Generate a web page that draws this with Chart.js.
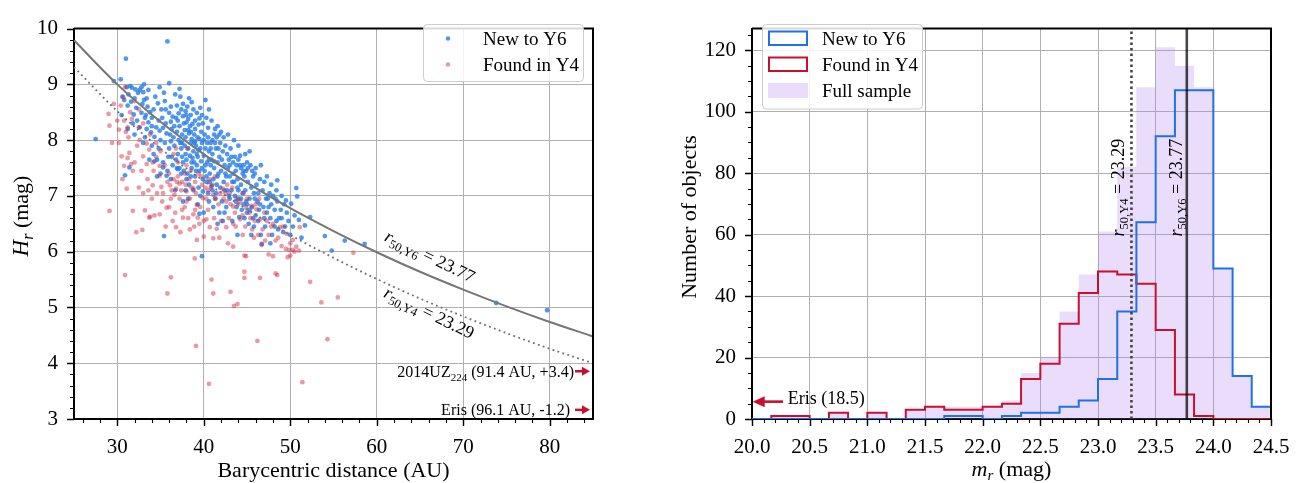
<!DOCTYPE html>
<html><head><meta charset="utf-8">
<script src="https://cdn.jsdelivr.net/npm/chart.js@4.4.1/dist/chart.umd.min.js"></script>
<style>
html,body{margin:0;padding:0;background:#fff;}
#wrap{position:relative;width:1310px;height:483px;overflow:hidden;background:#fff;}
canvas{position:absolute;top:0;}
</style></head><body>
<div id="wrap">
<canvas id="c1" width="655" height="483" style="left:0"></canvas>
<canvas id="c2" width="655" height="483" style="left:655px"></canvas>
</div>
<script>
// ---------------- LEFT PANEL DATA ----------------
const newY6Points = [
[27.5,8.02],[29.6,9.06],[30.4,9.09],[31.0,9.46],[35.8,9.77],[30.6,8.78],[30.8,8.72],[31.1,8.95],[31.2,8.62],[30.9,7.37],[31.4,7.51],[31.3,8.82],[31.5,8.97],
[31.7,8.94],[32.1,8.91],[32.4,8.85],[32.6,8.90],[33.0,8.86],[33.1,8.72],[32.2,8.58],[32.8,8.49],[33.2,8.40],[33.6,8.32],[32.6,8.23],[33.4,8.20],[33.9,8.14],[31.9,8.46],[32.3,8.35],[31.6,8.69],[33.5,8.60],[33.8,8.50],[32.0,8.10],[33.2,8.05],[33.0,7.95],[34.0,7.90],
[34.5,8.23],[34.9,8.17],[34.3,8.06],[34.7,8.66],[35.4,8.85],[36.0,8.49],[35.2,8.40],[35.6,8.30],[36.3,8.20],[35.0,8.00],[35.5,7.95],[36.0,7.85],[36.5,8.05],[36.8,8.40],[36.7,8.82],[35.9,7.70],[35.3,7.60],[36.4,7.55],[34.6,7.65],[35.8,7.45],[35.4,6.28],[36.9,8.15],[36.2,7.98],[35.1,8.55],[34.2,7.75],[35.0,7.40],
[37.6,8.65],[37.6,8.43],[38.0,8.32],[38.7,8.29],[39.2,8.49],[39.5,8.39],[40.2,8.72],[37.2,8.25],[37.5,8.10],[37.9,8.05],[38.3,8.12],[38.6,8.02],[38.9,8.10],[39.3,8.05],[39.7,8.15],[37.3,7.95],[37.8,7.90],[38.2,7.85],[38.5,7.95],[38.8,7.80],[39.1,7.90],[39.4,7.82],[39.8,7.95],[37.0,7.75],[37.5,7.70],[38.0,7.65],[38.4,7.72],[38.9,7.60],[39.3,7.70],[39.7,7.62],[37.2,7.50],[37.7,7.45],[38.1,7.40],[38.6,7.50],[39.0,7.35],[39.5,7.45],[39.9,7.30],[38.3,7.20],[38.8,7.10],[39.6,7.00],[39.3,6.85],[39.5,6.68],[39.8,5.92],[37.4,8.55],[38.1,8.60],[38.5,8.45],[37.0,8.35],[39.0,8.20],[39.9,8.30],[38.4,8.25],
[40.3,8.40],[40.9,8.35],[40.1,8.10],[40.5,8.05],[40.8,7.95],[41.2,8.10],[41.5,8.05],[41.8,8.10],[40.2,7.85],[40.6,7.80],[41.0,7.75],[41.4,7.85],[41.8,7.70],[42.2,7.80],[40.4,7.60],[40.8,7.55],[41.2,7.50],[41.6,7.60],[42.0,7.45],[42.4,7.55],[42.8,7.50],[40.3,7.35],[40.7,7.25],[41.1,7.30],[41.5,7.20],[41.9,7.15],[42.3,7.25],[42.7,7.10],[40.5,7.05],[41.3,6.95],[42.1,6.90],[42.6,6.80],[41.8,6.70],[42.2,6.55],[43.0,7.35],[43.2,7.70],[42.5,7.90],[41.0,7.10],
[43.4,7.60],[43.7,7.45],[44.0,7.65],[44.3,7.50],[44.6,7.55],[45.0,7.60],[45.4,7.55],[43.5,7.25],[43.9,7.30],[44.3,7.20],[44.7,7.35],[45.1,7.25],[45.5,7.15],[43.6,7.00],[44.0,6.95],[44.5,7.05],[44.9,6.90],[45.3,6.95],[45.8,7.05],[46.2,6.90],[43.8,6.80],[44.4,6.75],[45.0,6.70],[45.6,6.80],[46.0,6.65],[46.5,6.85],[45.2,6.50],[46.7,6.14],[44.1,6.62],[46.8,7.10],[47.2,6.95],[47.5,6.80],[47.0,6.60],[43.2,7.10],[44.2,7.72],[45.7,7.35],
[47.8,6.85],[48.2,6.75],[48.5,6.90],[48.5,7.28],[48.4,6.55],[49.0,6.60],[49.3,6.85],[49.6,6.70],[50.1,6.86],[49.5,6.92],[50.7,7.14],[50.8,6.99],[51.0,6.57],[51.7,6.47],[52.3,6.62],[51.3,6.25],[48.6,6.40],[49.2,6.35],[50.3,6.45],[47.6,7.05],
[54.0,6.28],[54.8,6.02],[56.3,6.20],[58.6,6.14],[73.8,5.08],[79.7,4.95],
[34.8,8.35],[35.3,8.22],[35.7,8.12],[36.2,8.33],[36.6,8.25],[37.1,8.48],[37.7,8.30],[38.2,8.38],[38.8,8.55],[39.4,8.28],[39.8,8.45],[40.5,8.22],[41.0,8.00],[41.3,8.20],[41.9,7.95],[42.3,8.05],[42.7,7.75],[43.1,7.85],[43.6,7.70],[44.2,7.55],[44.6,7.45],[45.1,7.50],[45.6,7.45],[46.1,7.20],[46.5,7.30],[47.0,7.25],[47.4,6.95],[48.0,7.00],[48.7,6.60],[49.4,6.45],
[36.3,7.70],[36.9,7.50],[37.4,7.40],[38.0,7.30],[38.6,7.60],[39.1,7.45],[39.8,7.50],[40.3,7.25],[40.9,7.18],[41.6,7.35],[42.4,7.10],[43.0,6.95],[43.7,6.90],[44.3,6.95],[45.0,6.85],[45.7,6.60],[46.3,6.55],[47.1,6.45],[47.9,6.30],[48.3,6.95],
[35.5,8.70],[36.2,8.60],[37.3,8.78],[38.3,8.75],[34.2,8.55],[33.6,8.90],[31.8,8.30],[30.5,8.45],[31.2,8.20],[34.8,7.85],[33.7,7.65],[34.3,7.62],[35.3,7.51],[35.7,7.36],[37.6,6.90],[37.0,7.48],
[36.6,7.90],[37.1,8.00],[37.4,7.85],[37.9,7.75],[38.2,8.18],[38.7,7.68],[39.0,7.98],[39.2,7.55],[39.6,7.85],[40.0,7.72],[40.4,7.95],[40.9,7.65],[41.3,7.95],[41.7,7.40],[42.1,7.65],[42.6,7.35],[43.0,7.55],[43.4,7.40],[43.9,7.15],[44.5,7.40],[36.1,8.10],[36.8,7.65],[37.6,7.60],[38.5,7.35],[39.4,7.15],[40.1,7.45],[40.7,7.40],[41.4,7.05],[42.9,7.00],[44.8,7.10],[45.9,6.95],[46.4,6.75],[47.3,6.70],[40.0,8.00],[39.0,8.35],[38.0,8.45],[34.0,8.40],[33.4,8.75],[32.0,8.75],
[36.4,8.42],[36.9,8.62],[37.9,8.52],[38.6,8.68],[39.6,8.58],[40.6,8.55],[41.6,8.25],[42.0,8.15],[42.8,8.10],[43.5,8.00],[44.0,7.90],[44.8,7.75],[45.3,7.80],[46.0,7.50],[46.6,7.55],[47.3,7.35],[47.8,7.20],[48.4,7.10],[49.0,7.00],[49.8,6.55],
[34.4,8.78],[33.1,9.00],[32.8,8.95],[34.9,8.95],[36.0,9.02],[37.2,8.92],[35.6,8.55],[34.0,8.25],[33.3,8.45],[32.9,8.65],
[37.8,8.18],[38.9,7.95],[39.5,8.02],[40.6,7.65],[41.2,7.62],[42.5,7.40],[43.3,7.25],[44.0,7.10],[44.6,6.85],[45.3,6.75],[46.3,7.05],[46.9,6.80],[47.7,6.60],[48.9,6.75],[50.5,6.65],
[37.5,7.95],[38.5,8.15],[39.2,7.75],[40.2,7.55],[40.8,7.85],[41.7,7.85],[42.9,7.65],[43.8,7.55],[44.9,7.45],[45.9,7.40],[39.9,7.08],[40.6,6.90],[41.1,6.80],[42.4,6.70],[43.3,6.55],[44.7,6.60],[45.8,6.45],[46.6,6.30],[47.7,6.15],[48.2,6.45],
[34.6,7.35],[36.2,7.30],[36.7,7.10],[37.9,7.10],[38.2,6.95],[40.0,6.70],[41.6,6.50],[43.9,6.30],[45.5,6.30],[50.0,6.30]
];
const foundY4Points = [
[29.0,8.47],[29.1,8.26],[29.4,7.95],[30.4,8.62],[30.7,8.77],[30.8,8.35],[31.2,8.23],[30.2,8.19],[31.7,8.38],[32.5,8.23],
[30.5,7.71],[31.2,7.68],[31.4,7.77],[30.8,7.54],[31.6,7.57],[32.6,8.00],[33.4,7.94],[33.7,7.83],[33.0,7.71],[33.4,7.57],[34.1,7.60],[34.9,7.54],[34.9,7.36],[34.1,7.19],[35.1,7.16],[36.1,7.19],[36.8,7.13],[37.2,7.22],[36.6,7.02],[38.0,7.08],[38.8,7.13],[38.0,6.90],[39.2,6.84],[39.9,6.96],[40.5,7.10],[41.1,7.02],[42.2,7.13],[43.0,7.05],[42.6,6.90],[43.4,6.81],[44.2,6.90],[44.9,6.79],[45.5,6.82],[46.1,6.76],[46.5,6.58],[47.3,6.55],[48.0,6.50],[48.8,6.44],[49.6,6.32],[50.3,6.21],[51.1,6.44],[50.7,6.09],[49.9,6.03],[44.2,6.58],[43.4,6.50],[42.6,6.44],[41.5,6.41],[40.7,6.44],[40.3,6.58],[39.3,6.61],[38.8,6.67],[37.6,6.61],[36.8,6.44],[36.4,6.55],[35.7,6.79],[34.9,6.67],[33.7,6.61],[33.2,6.74],[31.8,6.73],[29.1,6.73],[39.2,6.21],[40.0,6.27],[41.1,6.24],[43.4,6.09],[44.9,5.92],[46.7,6.12],[48.0,5.92],
[30.9,5.58],[35.8,5.25],[36.2,5.54],[39.1,4.31],[40.6,3.63],[51.4,3.66],[46.2,4.40],[54.3,4.43],[43.1,5.28],[43.5,5.03],[43.9,5.06],[41.1,5.25],[40.9,5.50],[44.7,5.53],[44.7,5.64],[46.5,5.53],[48.3,5.61],[48.5,5.58],[52.3,5.46],[53.6,5.09],[55.5,5.18],[57.3,5.98],[49.7,5.90],[50.0,5.93],[50.3,6.03],[38.96,5.88],[44.7,5.93],[33.8,6.63],[32.9,6.39],[31.1,7.13],
[36.0,7.40],[36.5,7.30],[37.0,7.35],[37.5,7.25],[37.8,7.40],[38.3,7.30],[38.6,7.15],[39.0,7.25],[39.4,7.40],[39.8,7.20],[40.2,7.15],[40.6,7.30],[41.0,7.20],[41.4,6.95],[41.9,7.05],[42.3,6.95],[42.7,7.20],[43.1,6.85],[43.6,6.70],[44.0,6.85],[44.5,6.65],[45.0,6.95],[45.4,6.60],[46.0,6.85],[46.8,6.40],[47.5,6.30],[48.3,6.20],[49.0,6.10],[49.5,6.05],[50.5,6.00],[51.0,6.02],[37.2,6.95],[37.8,6.80],[38.4,6.95],[39.0,6.75],[39.6,6.80],[40.0,6.55],[35.5,7.55],[35.0,7.80],[34.5,7.95],[33.8,8.10],[33.0,8.30],[32.5,8.55],[31.5,8.50],[31.0,8.15],[30.2,7.95],[36.5,7.75],[37.0,7.60],[38.0,7.55],[34.2,7.45],[33.5,7.30],[32.5,7.15],[31.8,7.45],[30.6,7.30],[36.2,6.95],[35.6,6.45],[34.3,6.65],[32.2,6.35],[38.4,6.40],[37.3,6.35],[41.8,6.25],[42.8,6.15],[45.8,6.25],[47.5,5.95],[44.5,6.30],
[35.3,7.05],[35.8,7.25],[36.3,7.10],[36.9,7.25],[37.4,7.10],[37.9,7.20],[38.5,7.45],[39.1,7.05],[39.7,7.35],[40.3,6.95],[40.8,7.15],[41.3,7.35],[41.7,6.85],[42.5,7.05],[43.3,7.15],[43.8,6.95],[44.6,7.05],[45.3,6.70],[45.9,6.55],[46.4,6.95],[47.0,6.70],[47.8,6.45],[48.6,6.25],[49.2,6.45],[50.0,6.15],
[36.0,6.80],[36.7,6.70],[37.5,6.75],[38.2,6.60],[38.9,6.45],[39.5,6.50],[40.5,6.75],[41.2,6.60],[42.0,6.55],[42.9,6.60],[43.7,6.45],[44.8,6.45],[45.6,6.40],[46.3,6.30],[47.1,6.20],
[32.0,7.60],[32.8,7.45],[33.6,7.10],[34.6,7.05],[35.2,6.90],[34.0,6.95],[33.0,7.05],[32.3,7.90],[31.3,8.05],[30.0,8.35],[29.6,8.65],[30.9,8.95],[32.0,8.70],[34.5,7.70],[36.8,7.85],[38.1,7.85]
];
const curveDist = [25,30,35,40,45,50,55,60,65,70,75,80,85];
const curveY6 = [9.79,9.00,8.33,7.75,7.24,6.78,6.37,5.99,5.64,5.32,5.02,4.74,4.48];
const curveY4 = [9.31,8.52,7.85,7.27,6.76,6.30,5.89,5.51,5.16,4.84,4.54,4.26,4.00];
const leftXTicks = [30,40,50,60,70,80];
const leftYTicks = [3,4,5,6,7,8,9,10];

// ---------------- RIGHT PANEL DATA ----------------
const binEdges = [20.0,20.167,20.333,20.5,20.667,20.833,21.0,21.167,21.333,21.5,21.667,21.833,22.0,22.167,22.333,22.5,22.667,22.833,23.0,23.167,23.333,23.5,23.667,23.833,24.0,24.167,24.333,24.5];
const countsY6   = [0,0,0,0,0,0,0,0,0,0,1,1,0,1,2,2,4,6,13,35,64,92,107,107,49,14,4];
const countsY4   = [0,1,1,0,2,0,2,0,3,4,3,3,4,5,13,18,31,41,48,47,44,29,8,1,0,0,0];
const countsFull = [0,1,1,0,2,0,2,0,3,4,4,4,4,6,15,20,35,47,61,82,108,121,115,108,49,14,4];
const rightXTicks = [20.0,20.5,21.0,21.5,22.0,22.5,23.0,23.5,24.0,24.5];
const rightYTicks = [0,20,40,60,80,100,120];
const medianY4 = 23.29;
const medianY6 = 23.77;

// ---------------- HELPERS ----------------
const FONT = '"Liberation Serif","DejaVu Serif","Times New Roman",serif';
const f = (sz, it) => (it ? 'italic ' : '') + sz + 'px ' + FONT;
const RED = '#c8102e', BLUE = '#1f72e6';

function drawRich(ctx, parts, x, y, align, rot, base) {
  ctx.save();
  ctx.translate(x, y);
  if (rot) ctx.rotate(rot);
  ctx.fillStyle = '#000';
  ctx.textBaseline = 'alphabetic';
  ctx.textAlign = 'left';
  let w = 0;
  const ws = parts.map(p => { ctx.font = p.f; const m = ctx.measureText(p.t).width; w += m; return m; });
  let cx = align === 'center' ? -w / 2 : (align === 'right' ? -w : 0);
  parts.forEach((p, i) => { ctx.font = p.f; ctx.fillText(p.t, cx, (base || 0) + (p.dy || 0)); cx += ws[i]; });
  ctx.restore();
}
function arrow(ctx, x0, y, x1, shaft, headL, headW) {
  const dir = Math.sign(x1 - x0);
  ctx.save(); ctx.strokeStyle = RED; ctx.fillStyle = RED; ctx.lineWidth = shaft;
  ctx.beginPath(); ctx.moveTo(x0, y); ctx.lineTo(x1 - dir * headL * 0.7, y); ctx.stroke();
  ctx.beginPath(); ctx.moveTo(x1, y); ctx.lineTo(x1 - dir * headL, y - headW); ctx.lineTo(x1 - dir * headL, y + headW); ctx.closePath(); ctx.fill();
  ctx.restore();
}
function frame(chart, xMajor, xMinor, yMajor, yMinor) {
  const {ctx, chartArea: a, scales: {x, y}} = chart;
  ctx.save(); ctx.strokeStyle = '#000';
  ctx.lineWidth = 1.4; ctx.beginPath();
  xMajor.forEach(v => { const p = Math.round(x.getPixelForValue(v)) + 0.5; ctx.moveTo(p, a.bottom); ctx.lineTo(p, a.bottom + 7); });
  yMajor.forEach(v => { const p = Math.round(y.getPixelForValue(v)) + 0.5; ctx.moveTo(a.left, p); ctx.lineTo(a.left - 7, p); });
  ctx.stroke();
  ctx.lineWidth = 1.1; ctx.beginPath();
  for (let k = Math.ceil(x.min / xMinor - 1e-6); k * xMinor <= x.max + 1e-6; k++) {
    const p = Math.round(x.getPixelForValue(k * xMinor)) + 0.5; ctx.moveTo(p, a.bottom); ctx.lineTo(p, a.bottom + 4);
  }
  for (let k = Math.ceil(y.min / yMinor - 1e-6); k * yMinor <= y.max + 1e-6; k++) {
    const p = Math.round(y.getPixelForValue(k * yMinor)) + 0.5; ctx.moveTo(a.left, p); ctx.lineTo(a.left - 4, p);
  }
  ctx.stroke();
  ctx.lineWidth = 2; ctx.beginPath();
  ctx.moveTo(a.left, a.top); ctx.lineTo(a.right, a.top); ctx.lineTo(a.right, a.bottom); ctx.stroke();
  ctx.restore();
}
function legendBox(ctx, x0, y0, x1, y1) {
  ctx.save();
  ctx.fillStyle = 'rgba(255,255,255,0.85)'; ctx.strokeStyle = '#cccccc'; ctx.lineWidth = 1;
  ctx.beginPath(); ctx.roundRect(x0 + 0.5, y0 + 0.5, x1 - x0, y1 - y0, 4); ctx.fill(); ctx.stroke();
  ctx.restore();
}
function axisCommon(min, max, ticksArr, fmt, pad, fitProp, fitVal) {
  return {
    type: 'linear', min, max,
    afterBuildTicks: s => { s.ticks = ticksArr.map(v => ({value: v})); },
    afterFit: s => { s[fitProp] = fitVal; },
    ticks: {callback: fmt, font: {family: FONT, size: 21}, color: '#000', padding: pad, autoSkip: false, maxRotation: 0},
    grid: {color: '#b0b0b0', lineWidth: 1, drawTicks: false},
    border: {color: '#000', width: 2}
  };
}

// ---------------- LEFT CHART ----------------
const leftDecor = {
  id: 'leftDecor',
  afterDraw(chart) {
    const {ctx, scales: {x, y}} = chart;
    frame(chart, leftXTicks, 2, leftYTicks, 0.2);
    drawRich(ctx, [{t: 'r', f: f(18, true)}, {t: '50,Y6', f: f(12.5), dy: 4}, {t: ' = 23.77', f: f(18)}],
      x.getPixelForValue(66.16), y.getPixelForValue(5.92), 'center', 26 * Math.PI / 180, 6);
    drawRich(ctx, [{t: 'r', f: f(18, true)}, {t: '50,Y4', f: f(12.5), dy: 4}, {t: ' = 23.29', f: f(18)}],
      x.getPixelForValue(66.08), y.getPixelForValue(4.91), 'center', 26 * Math.PI / 180, 6);
    drawRich(ctx, [{t: '2014UZ', f: f(16)}, {t: '224', f: f(11), dy: 4}, {t: ' (91.4 AU, +3.4)', f: f(16)}],
      x.getPixelForValue(82.8), y.getPixelForValue(3.856), 'right', 0, 5.5);
    arrow(ctx, x.getPixelForValue(82.92), y.getPixelForValue(3.856), x.getPixelForValue(84.65), 2.5, 8, 4.5);
    drawRich(ctx, [{t: 'Eris (96.1 AU, -1.2)', f: f(16)}],
      x.getPixelForValue(82.34), y.getPixelForValue(3.164), 'right', 0, 5.5);
    arrow(ctx, x.getPixelForValue(82.92), y.getPixelForValue(3.164), x.getPixelForValue(84.65), 2.5, 8, 4.5);
    legendBox(ctx, 423, 24, 583, 81);
    ctx.save();
    ctx.fillStyle = 'rgba(40,125,230,0.8)'; ctx.beginPath(); ctx.arc(448, 38.5, 2.3, 0, 2 * Math.PI); ctx.fill();
    ctx.fillStyle = 'rgba(205,30,60,0.45)'; ctx.beginPath(); ctx.arc(448, 64.5, 2.3, 0, 2 * Math.PI); ctx.fill();
    ctx.restore();
    drawRich(ctx, [{t: 'New to Y6', f: f(19)}], 483, 38.5, 'left', 0, 6.5);
    drawRich(ctx, [{t: 'Found in Y4', f: f(19)}], 483, 64.5, 'left', 0, 6.5);
    drawRich(ctx, [{t: 'Barycentric distance (AU)', f: f(22)}], 333.5, 470, 'center', 0, 7);
    drawRich(ctx, [{t: 'H', f: f(23, true)}, {t: 'r', f: f(16, true), dy: 5}, {t: ' (mag)', f: f(22)}], 20.5, 216, 'center', -Math.PI / 2, 7);
  }
};

new Chart(document.getElementById('c1'), {
  type: 'scatter',
  data: {datasets: [
    {data: curveDist.map((d, i) => ({x: d, y: curveY6[i]})), showLine: true, borderColor: '#767676', borderWidth: 2, pointRadius: 0, cubicInterpolationMode: 'monotone', order: 0},
    {data: curveDist.map((d, i) => ({x: d, y: curveY4[i]})), showLine: true, borderColor: '#6e6e6e', borderWidth: 1.8, borderDash: [1.8, 3.4], pointRadius: 0, cubicInterpolationMode: 'monotone', order: 1},
    {data: foundY4Points.map(p => ({x: p[0], y: p[1]})), backgroundColor: 'rgba(205,30,60,0.45)', pointRadius: 2.4, pointBorderWidth: 0, borderWidth: 0, order: 2},
    {data: newY6Points.map(p => ({x: p[0], y: p[1]})), backgroundColor: 'rgba(40,125,230,0.8)', pointRadius: 2.4, pointBorderWidth: 0, borderWidth: 0, order: 3}
  ]},
  options: {
    responsive: false, animation: false, events: [], devicePixelRatio: 1,
    layout: {padding: {left: 0, right: 62, top: 14, bottom: 0}},
    plugins: {legend: {display: false}, tooltip: {enabled: false}},
    scales: {
      x: axisCommon(25, 85, leftXTicks, v => String(v), 16, 'height', 64),
      y: axisCommon(3, 10, leftYTicks, v => String(v), 16, 'width', 74)
    }
  },
  plugins: [leftDecor]
});

// ---------------- RIGHT CHART ----------------
function stepPoints(edges, counts) {
  const pts = [{x: edges[0], y: 0}];
  counts.forEach((c, i) => pts.push({x: edges[i], y: c}));
  pts.push({x: edges[edges.length - 1], y: 0});
  return pts;
}
const yMaxRight = 127.05;
const rightDecor = {
  id: 'rightDecor',
  afterDraw(chart) {
    const {ctx, scales: {x, y}} = chart;
    frame(chart, rightXTicks, 0.1, rightYTicks, 5);
    drawRich(ctx, [{t: 'r', f: f(18, true)}, {t: '50,Y4', f: f(12.5), dy: 4}, {t: ' = 23.29', f: f(18)}],
      x.getPixelForValue(23.174), y.getPixelForValue(75.3), 'center', -Math.PI / 2, 6);
    drawRich(ctx, [{t: 'r', f: f(18, true)}, {t: '50,Y6', f: f(12.5), dy: 4}, {t: ' = 23.77', f: f(18)}],
      x.getPixelForValue(23.676), y.getPixelForValue(75.3), 'center', -Math.PI / 2, 6);
    arrow(ctx, x.getPixelForValue(20.269), y.getPixelForValue(5.65), x.getPixelForValue(20.006), 2.6, 12, 5.5);
    drawRich(ctx, [{t: 'Eris (18.5)', f: f(18)}], x.getPixelForValue(20.31), y.getPixelForValue(6.8), 'left', 0, 6);
    legendBox(ctx, 107, 24, 267, 108.5);
    ctx.save();
    ctx.lineWidth = 2;
    ctx.strokeStyle = BLUE; ctx.strokeRect(114, 31.5, 38, 13.5);
    ctx.strokeStyle = RED; ctx.strokeRect(114, 57.5, 38, 13.5);
    ctx.fillStyle = 'rgba(170,120,240,0.25)'; ctx.fillRect(113, 83, 40, 15);
    ctx.restore();
    drawRich(ctx, [{t: 'New to Y6', f: f(19)}], 167, 38.4, 'left', 0, 6.5);
    drawRich(ctx, [{t: 'Found in Y4', f: f(19)}], 167, 64.4, 'left', 0, 6.5);
    drawRich(ctx, [{t: 'Full sample', f: f(19)}], 167, 90.8, 'left', 0, 6.5);
    drawRich(ctx, [{t: 'm', f: f(22, true)}, {t: 'r', f: f(15, true), dy: 4}, {t: ' (mag)', f: f(22)}], 356.5, 469, 'center', 0, 7);
    drawRich(ctx, [{t: 'Number of objects', f: f(22)}], 34, 217, 'center', -Math.PI / 2, 7);
  }
};

new Chart(document.getElementById('c2'), {
  type: 'line',
  data: {datasets: [
    {data: [{x: medianY4, y: 0}, {x: medianY4, y: yMaxRight}], borderColor: '#444444', borderWidth: 2.6, borderDash: [2.6, 2.9], pointRadius: 0, fill: false, order: 0},
    {data: [{x: medianY6, y: 0}, {x: medianY6, y: yMaxRight}], borderColor: 'rgba(0,0,0,0.72)', borderWidth: 2.6, pointRadius: 0, fill: false, order: 1},
    {label: 'New to Y6', data: stepPoints(binEdges, countsY6), stepped: 'before', borderColor: BLUE, borderWidth: 2, pointRadius: 0, fill: false, order: 2},
    {label: 'Found in Y4', data: stepPoints(binEdges, countsY4), stepped: 'before', borderColor: RED, borderWidth: 2, pointRadius: 0, fill: false, order: 3},
    {label: 'Full sample', data: stepPoints(binEdges, countsFull), stepped: 'before', borderColor: 'rgba(0,0,0,0)', borderWidth: 0, backgroundColor: 'rgba(170,120,240,0.25)', pointRadius: 0, fill: 'origin', order: 4}
  ]},
  options: {
    responsive: false, animation: false, events: [], devicePixelRatio: 1,
    layout: {padding: {left: 0, right: 39, top: 14, bottom: 0}},
    plugins: {legend: {display: false}, tooltip: {enabled: false}},
    scales: {
      x: axisCommon(20, 24.5, rightXTicks, v => Number(v).toFixed(1), 16, 'height', 64),
      y: axisCommon(0, yMaxRight, rightYTicks, v => String(v), 16, 'width', 97)
    }
  },
  plugins: [rightDecor]
});
</script>
</body></html>
